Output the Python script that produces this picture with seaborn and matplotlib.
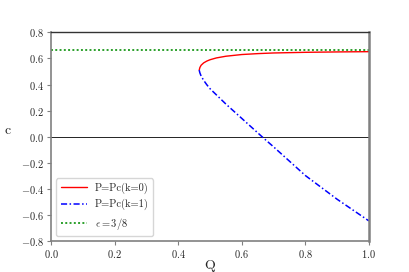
import matplotlib
matplotlib.use("Agg")
import matplotlib.pyplot as plt
import seaborn as sns
import pandas as pd

# branch k=0 (upper, red)
q_k0 = [0.466, 0.468, 0.472, 0.48, 0.49, 0.50, 0.52, 0.55, 0.60, 0.65, 0.70, 0.80, 0.90, 1.00]
c_k0 = [0.510, 0.530, 0.548, 0.566, 0.580, 0.590, 0.604, 0.617, 0.630, 0.637, 0.642, 0.647, 0.650, 0.652]

# branch k=1 (lower, blue)
q_k1 = [0.466, 0.468, 0.472, 0.48, 0.49, 0.50, 0.55, 0.60, 0.668, 0.70, 0.80, 0.90, 1.00]
c_k1 = [0.510, 0.490, 0.465, 0.432, 0.398, 0.368, 0.250, 0.140, -0.010, -0.078, -0.298, -0.480, -0.646]

eps_level = 2.0 / 3.0

sns.set_style("white")
plt.rcParams["font.family"] = ["serif"]
plt.rcParams["font.serif"] = ["cmr10", "DejaVu Serif"]
plt.rcParams["mathtext.fontset"] = "cm"
plt.rcParams["axes.unicode_minus"] = False
plt.rcParams["axes.formatter.use_mathtext"] = True

df0 = pd.DataFrame({"Q": q_k0, "c": c_k0})
df1 = pd.DataFrame({"Q": q_k1, "c": c_k1})

fig, ax = plt.subplots(figsize=(4.09, 2.72), dpi=100)
fig.subplots_adjust(left=0.125, right=0.902, bottom=0.114, top=0.881)

ax.axhline(0, color="black", lw=0.6)
sns.lineplot(data=df0, x="Q", y="c", sort=False, color="red", lw=1.0,
             label="P=Pc(k=0)", ax=ax)
sns.lineplot(data=df1, x="Q", y="c", sort=False, color="blue", lw=1.1,
             dashes=False, label="P=Pc(k=1)", ax=ax)
ax.lines[-1].set_dashes([4, 1.6, 1, 1.6])
ax.axhline(eps_level, color="#2ca02c", lw=1.4, linestyle=(0, (1, 1.2)), label=r"$\epsilon=3/8$")

ax.set_xlim(0, 1)
ax.set_ylim(-0.8, 0.8)
ax.set_xticks([0.0, 0.2, 0.4, 0.6, 0.8, 1.0])
ax.set_yticks([-0.8, -0.6, -0.4, -0.2, 0.0, 0.2, 0.4, 0.6, 0.8])
ax.tick_params(axis="both", labelsize=7.5, length=3, width=0.8, direction="out",
               left=True, bottom=True, color="#808080", pad=2)
ax.set_xlabel("Q", fontsize=10, labelpad=0)
ax.set_ylabel("c", fontsize=10, rotation=0, labelpad=10)

for side in ["left", "bottom"]:
    ax.spines[side].set_color("#808080")
    ax.spines[side].set_linewidth(1.2)
ax.spines["right"].set_color("#808080")
ax.spines["right"].set_linewidth(1.8)
ax.spines["top"].set_color("#333333")
ax.spines["top"].set_linewidth(1.0)

ax.legend(loc="lower left", fontsize=7.5, frameon=True, handlelength=2.5)

fig.savefig("out.png", dpi=100)
